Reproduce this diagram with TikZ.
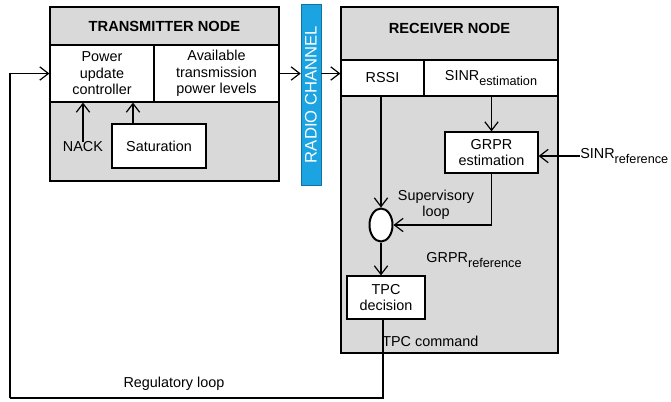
\documentclass[tikz,border=0pt]{standalone}
\usepackage{fontspec}
\setmainfont{Liberation Sans}
\usepackage{tikz}
\usetikzlibrary{arrows.meta,positioning,shapes}
\definecolor{boxgrey}{RGB}{217,217,217}
\definecolor{radioblue}{RGB}{27,163,226}
\newcommand{\lowidx}[1]{\raisebox{-0.75ex}{\fontsize{9.5}{10}\selectfont #1}}
\tikzset{sz/.style 2 args={minimum width=#1*0.75pt,minimum height=#2*0.75pt}}

\begin{document}
\begin{tikzpicture}[x=0.75pt,y=-0.75pt]
\tikzstyle{every node}=[inner sep=0pt,font=\fontsize{10.8}{12.4}\selectfont];
\tikzstyle{outer}=[draw,line width=0.9pt,fill=boxgrey,rectangle];
\tikzstyle{cell}=[draw,line width=0.9pt,fill=white,rectangle,align=center];
\tikzstyle{title}=[font=\fontsize{11}{12.4}\selectfont\bfseries];
\tikzstyle{arr}=[line width=0.9pt,-{Straight Barb[length=6.5pt,width=10pt]}];
\tikzstyle{wire}=[line width=0.9pt];
\useasboundingbox (0,0) rectangle (671,401);

% transmitter side
\node[outer,sz={229}{174}] (tx) at (164.5,94) {};
\node[title] (txtitle) at (164.5,26) {TRANSMITTER NODE};
\node[cell,sz={104}{57}] (puc) at (102,73.5) {Power\\update\\controller};
\node[cell,sz={125}{57}] (apl) at (216.5,73.5) {Available\\transmission\\power levels};
\node[cell,sz={94}{44}] (sat) at (159,146) {Saturation};
\node (nack) at (83,147) {NACK};
\coordinate (satout) at (133,0);

% channel
\node[draw=radioblue!70!black,fill=radioblue,sz={20}{181}] (radio) at (311,94.5) {};
\node[rotate=90,text=white,font=\fontsize{12.5}{13}\selectfont] (radiotxt) at (radio) {RADIO CHANNEL};

% receiver side
\node[outer,sz={217}{346}] (rx) at (449.5,180) {};
\node[title] (rxtitle) at (449.5,28) {RECEIVER NODE};
\node[cell,sz={83}{36}] (rssi) at (382.5,78) {RSSI};
\node[cell,sz={134}{36}] (sinr) at (491,78) {SINR\lowidx{estimation}};
\node[cell,sz={93}{41}] (grpr) at (491.5,152.5) {GRPR\\estimation};
\node[anchor=west] (sinrref) at (580,156) {SINR\lowidx{reference}};
\node[ellipse,draw,fill=white,line width=1.5pt,sz={23}{33}] (sum) at (381,225) {};
\node[align=center] (sup) at (436,205) {Supervisory\\loop};
\node (grprref) at (474,260) {GRPR\lowidx{reference}};
\node[cell,sz={78}{43}] (tpc) at (386,297.5) {TPC\\decision};
\node[anchor=west] (tpccmd) at (382,341) {TPC command};
\node (regloop) at (174,384) {Regulatory loop};
\coordinate (regright) at (383,398);
\coordinate (regleft) at (10,398);

% connectors
\draw[arr] (nack.north) -- (nack.north |- puc.south);
\draw[arr] (sat.north -| satout) -- (satout |- puc.south);
\draw[arr] (apl.east) -- (apl.east -| radio.west);
\draw[arr] (apl.east -| radio.east) -- (apl.east -| rx.west);
\draw[arr] (sinr.south -| grpr.north) -- (grpr.north);
\draw[arr] (sinrref.west) -- (sinrref.west -| grpr.east);
\draw[arr] (rssi.south -| sum.north) -- (sum.north);
\draw[arr] (grpr.south) |- (sum.east);
\draw[arr] (sum.south) -- (sum.south |- tpc.north);
\draw[wire] (tpc.south -| regright) -- (regright) -- (regleft);
\draw[arr] (regleft) |- (puc.west);
\end{tikzpicture}
\end{document}
